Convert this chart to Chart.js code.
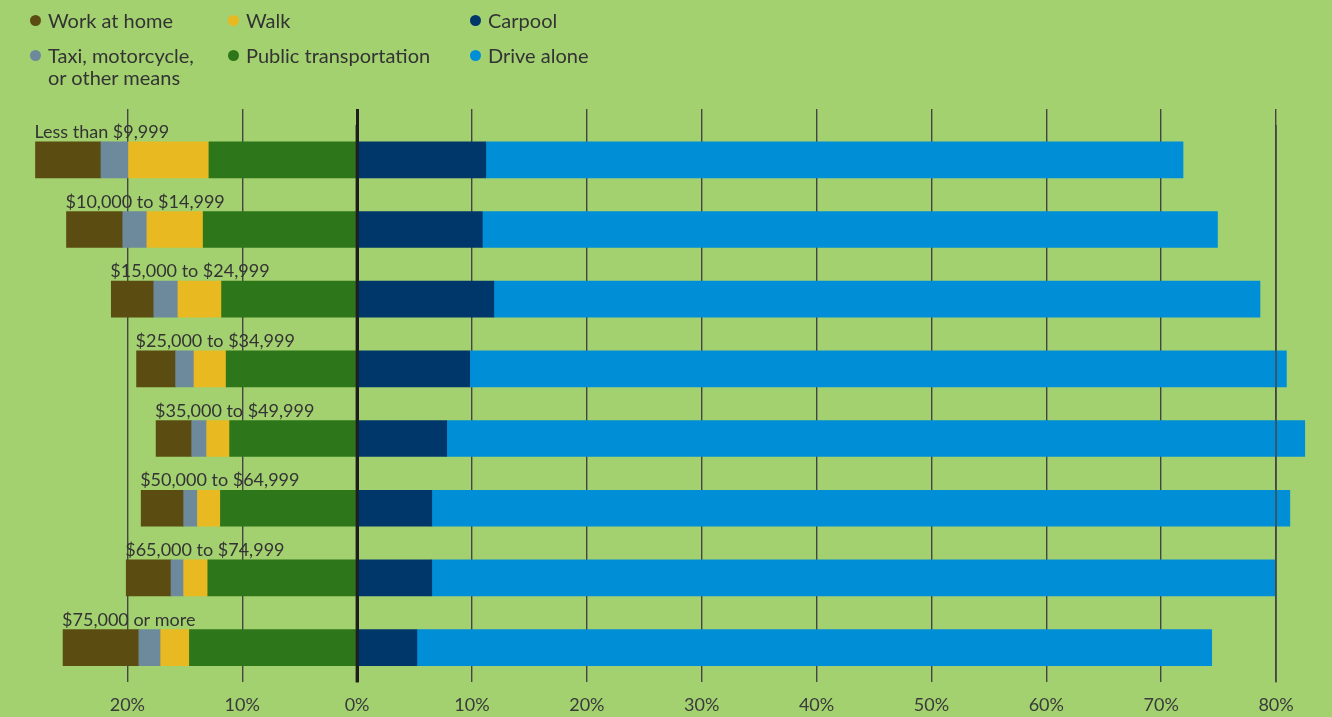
<!DOCTYPE html>
<html>
<head>
<meta charset="utf-8">
<script src="https://cdn.jsdelivr.net/npm/chart.js@4.4.1/dist/chart.umd.min.js"></script>
<style>
  body { margin: 0; background: #a3d170; font-family: Lato, "Noto Sans", sans-serif; }
  #wrap { position: relative; width: 1332px; height: 717px; }
  #legend { position: absolute; left: 0; top: 0; width: 700px; height: 100px; }
  .item { position: absolute; font-size: 20px; line-height: 22px; color: #333; white-space: nowrap; }
  .dot { position: absolute; width: 11px; height: 11px; border-radius: 50%; left: -18px; top: 6px; }
</style>
</head>
<body>
<div id="wrap">
  <canvas id="commuteChart"></canvas>
  <div id="legend"></div>
</div>
<script>
// income brackets, top to bottom
const categories = [
  "Less than $9,999", "$10,000 to $14,999", "$15,000 to $24,999", "$25,000 to $34,999",
  "$35,000 to $49,999", "$50,000 to $64,999", "$65,000 to $74,999", "$75,000 or more"
];

// share of workers (%), left side of zero
const workAtHome    = [5.7, 4.9, 3.7, 3.4, 3.1, 3.7, 3.9, 6.6];
const taxiOther     = [2.4, 2.1, 2.1, 1.6, 1.3, 1.2, 1.1, 1.9];
const walk          = [7.0, 4.9, 3.8, 2.8, 2.0, 2.0, 2.1, 2.5];
const publicTransit = [12.9, 13.4, 11.8, 11.4, 11.1, 11.9, 13.0, 14.6];
// right side of zero
const carpool       = [11.2, 10.9, 11.9, 9.8, 7.8, 6.5, 6.5, 5.2];
const driveAlone    = [60.7, 64.0, 66.7, 71.1, 74.7, 74.7, 73.4, 69.2];

const tickValues = [-20, -10, 0, 10, 20, 30, 40, 50, 60, 70, 80];

const colors = {
  home: "#5b4d11",
  taxi: "#6d8a9c",
  walk: "#e8b920",
  transit: "#2d7619",
  carpool: "#00376b",
  drive: "#008ed6"
};

// legend (3 columns, 2 rows)
const legendItems = [
  { label: "Work at home", color: colors.home, col: 0, row: 0 },
  { label: "Walk", color: colors.walk, col: 1, row: 0 },
  { label: "Carpool", color: colors.carpool, col: 2, row: 0 },
  { label: "Taxi, motorcycle,<br>or other means", color: colors.taxi, col: 0, row: 1 },
  { label: "Public transportation", color: colors.transit, col: 1, row: 1 },
  { label: "Drive alone", color: colors.drive, col: 2, row: 1 }
];
const colX = [48, 246, 488];
const rowY = [9, 44];
const legend = document.getElementById("legend");
legendItems.forEach(it => {
  const d = document.createElement("div");
  d.className = "item";
  d.style.left = colX[it.col] + "px";
  d.style.top = rowY[it.row] + "px";
  d.innerHTML = '<span class="dot" style="background:' + it.color + '"></span>' + it.label;
  legend.appendChild(d);
});

const neg = arr => arr.map(v => -v);

// grid lines that sit on top of the bars in the original
const overlayLines = {
  id: "overlayLines",
  afterDatasetsDraw(chart) {
    const { ctx, chartArea, scales } = chart;
    ctx.save();
    [[0, 3, "#1e1e1e"], [80, 1.4, "#454545"]].forEach(([v, w, c]) => {
      const x = scales.x.getPixelForValue(v);
      ctx.beginPath();
      ctx.lineWidth = w;
      ctx.strokeStyle = c;
      ctx.moveTo(x, chartArea.top);
      ctx.lineTo(x, chartArea.bottom);
      ctx.stroke();
    });
    ctx.restore();
  }
};

// bracket names above the left end of every bar
const bracketLabels = {
  id: "bracketLabels",
  afterDatasetsDraw(chart) {
    const { ctx } = chart;
    const meta = chart.getDatasetMeta(3);
    ctx.save();
    ctx.font = "18px Lato, 'Noto Sans', sans-serif";
    ctx.fillStyle = "#333";
    ctx.textAlign = "left";
    ctx.textBaseline = "alphabetic";
    meta.data.forEach((el, i) => {
      const left = Math.min(el.x, el.base);
      const top = el.y - el.height / 2;
      ctx.fillText(categories[i], left - 1, top - 4);
    });
    ctx.restore();
  }
};

const gridColor = c => (c.tick && c.tick.value === 0) ? "#1e1e1e" : "#454545";
const gridWidth = c => (c.tick && c.tick.value === 0) ? 3 : 1.4;
const keepTicks = axis => { axis.ticks = tickValues.map(v => ({ value: v })); };

const ctx = document.getElementById("commuteChart").getContext("2d");
new Chart(ctx, {
  type: "bar",
  data: {
    labels: categories,
    datasets: [
      { label: "Public transportation", data: neg(publicTransit), backgroundColor: colors.transit },
      { label: "Walk", data: neg(walk), backgroundColor: colors.walk },
      { label: "Taxi, motorcycle, or other means", data: neg(taxiOther), backgroundColor: colors.taxi },
      { label: "Work at home", data: neg(workAtHome), backgroundColor: colors.home },
      { label: "Carpool", data: carpool, backgroundColor: colors.carpool },
      { label: "Drive alone", data: driveAlone, backgroundColor: colors.drive }
    ]
  },
  options: {
    indexAxis: "y",
    responsive: true,
    maintainAspectRatio: false,
    animation: false,
    layout: { padding: { left: 24, right: 10, top: 109, bottom: -11 } },
    datasets: { bar: { barThickness: 36, borderWidth: 0 } },
    plugins: { legend: { display: false }, tooltip: { enabled: false } },
    scales: {
      y: { stacked: true, display: false },
      x: {
        stacked: true,
        min: -29,
        max: 84,
        afterBuildTicks: keepTicks,
        border: { display: false },
        grid: { color: gridColor, lineWidth: gridWidth, drawTicks: false },
        ticks: {
          padding: 12,
          color: "#3a3a3a",
          font: { family: "Lato, 'Noto Sans', sans-serif", size: 18 },
          callback: v => Math.abs(v) + "%"
        }
      },
      xTop: {
        position: "top",
        axis: "x",
        min: -29,
        max: 84,
        afterBuildTicks: keepTicks,
        border: { display: false },
        grid: { color: gridColor, lineWidth: gridWidth, drawOnChartArea: false, drawTicks: true, tickLength: 16 },
        ticks: { display: false }
      }
    }
  },
  plugins: [overlayLines, bracketLabels]
});
</script>
</body>
</html>
